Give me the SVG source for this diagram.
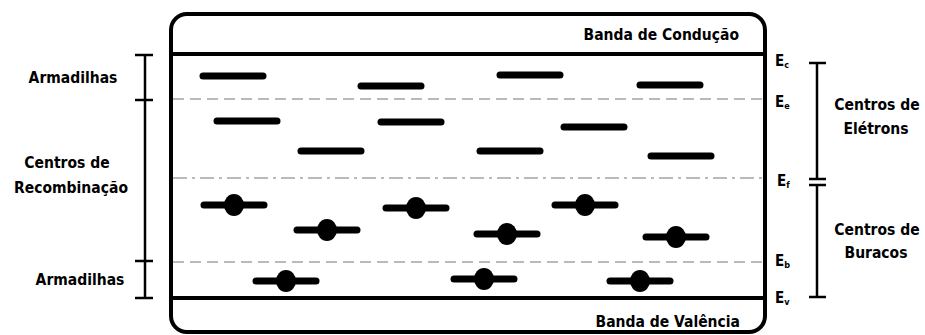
<svg xmlns="http://www.w3.org/2000/svg" width="925" height="335" viewBox="0 0 925 335">
<style>
text{font-family:"DejaVu Sans Condensed","DejaVu Sans","Liberation Sans",sans-serif;font-stretch:condensed;font-weight:bold;fill:#000}
.lbl{font-size:15.5px}
.e{font-size:15px}
.sub{font-size:9px}
.band{fill:none;stroke:#000;stroke-width:4}
.lvl{stroke:#000;stroke-width:7;stroke-linecap:round}
.dash{stroke:#777;stroke-width:1.2;stroke-dasharray:11 6;fill:none}
.dashdot{stroke:#777;stroke-width:1.2;stroke-dasharray:14 5 3 5;fill:none}
.br{stroke:#000;stroke-width:2.5;fill:none}
</style>
<defs>
<g id="trap"><line class="lvl" x1="-30" y1="0" x2="30" y2="0"/></g>
<g id="hole"><line class="lvl" x1="-30" y1="0" x2="30" y2="0"/><ellipse cx="0" cy="0" rx="10" ry="11" fill="#000"/></g>
</defs>
<g id="box">
<rect class="band" x="171" y="14" width="594" height="318" rx="16" ry="16"/>
<line class="band" x1="171" y1="54" x2="765" y2="54"/>
<line class="band" x1="171" y1="298" x2="765" y2="298"/>
<text class="lbl" x="739" y="40" text-anchor="end">Banda de Condução</text>
<text class="lbl" x="740" y="327" text-anchor="end">Banda de Valência</text>
</g>
<g id="levels">
<line class="dash" x1="173" y1="99" x2="763" y2="99"/>
<line class="dashdot" x1="173" y1="178" x2="763" y2="178"/>
<line class="dash" x1="173" y1="262" x2="763" y2="262"/>
</g>
<g id="electron-traps">
<use href="#trap" x="233" y="76"/>
<use href="#trap" x="391" y="86"/>
<use href="#trap" x="530" y="75"/>
<use href="#trap" x="670" y="85"/>
<use href="#trap" x="247" y="121"/>
<use href="#trap" x="411" y="122"/>
<use href="#trap" x="594" y="127"/>
<use href="#trap" x="331" y="151"/>
<use href="#trap" x="510" y="151"/>
<use href="#trap" x="681" y="156"/>
</g>
<g id="hole-traps">
<use href="#hole" x="234" y="205"/>
<use href="#hole" x="327" y="230"/>
<use href="#hole" x="416" y="208"/>
<use href="#hole" x="507" y="234"/>
<use href="#hole" x="585" y="205"/>
<use href="#hole" x="676" y="237"/>
<use href="#hole" x="286" y="281"/>
<use href="#hole" x="484" y="279"/>
<use href="#hole" x="640" y="281"/>
</g>
<g id="energy-labels">
<text class="e" x="775" y="66">E<tspan class="sub" dy="2">c</tspan></text>
<text class="e" x="775" y="107">E<tspan class="sub" dy="2">e</tspan></text>
<text class="e" x="777" y="186">E<tspan class="sub" dy="2">f</tspan></text>
<text class="e" x="775" y="266">E<tspan class="sub" dy="2">b</tspan></text>
<text class="e" x="775" y="303">E<tspan class="sub" dy="2">v</tspan></text>
</g>
<g id="left-brackets">
<line class="br" x1="145" y1="55" x2="145" y2="298"/>
<line class="br" x1="135" y1="55" x2="153" y2="55"/>
<line class="br" x1="135" y1="100" x2="153" y2="100"/>
<line class="br" x1="135" y1="261" x2="153" y2="261"/>
<line class="br" x1="135" y1="298" x2="153" y2="298"/>
<text class="lbl" x="73" y="83" text-anchor="middle">Armadilhas</text>
<text class="lbl" x="67" y="168" text-anchor="middle">Centros de</text>
<text class="lbl" x="71" y="193" text-anchor="middle">Recombinação</text>
<text class="lbl" x="80" y="285" text-anchor="middle">Armadilhas</text>
</g>
<g id="right-brackets">
<line class="br" x1="817" y1="63" x2="817" y2="179"/>
<line class="br" x1="817" y1="185" x2="817" y2="297"/>
<line class="br" x1="809" y1="63" x2="826" y2="63"/>
<line class="br" x1="809" y1="179" x2="826" y2="179"/>
<line class="br" x1="809" y1="185" x2="826" y2="185"/>
<line class="br" x1="809" y1="297" x2="826" y2="297"/>
<text class="lbl" x="877" y="110" text-anchor="middle">Centros de</text>
<text class="lbl" x="876" y="134" text-anchor="middle">Elétrons</text>
<text class="lbl" x="877" y="235" text-anchor="middle">Centros de</text>
<text class="lbl" x="876" y="258" text-anchor="middle">Buracos</text>
</g>
</svg>
